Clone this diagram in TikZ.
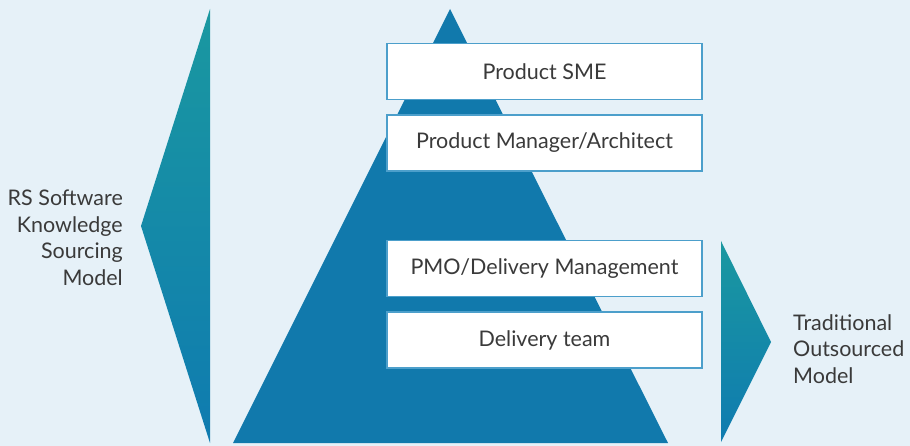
\documentclass[tikz,border=0pt]{standalone}
\usepackage{fontspec}
\setmainfont{Lato}
\definecolor{bg}{HTML}{E6F1F8}
\definecolor{pyr}{HTML}{1179AC}
\definecolor{teal}{HTML}{1A98A0}
\definecolor{deepblue}{HTML}{0F7BB0}
\definecolor{boxline}{HTML}{4C9FCB}
\definecolor{txt}{HTML}{3A3A3A}
\tikzset{
  rolebox/.style={draw=boxline, line width=1.2pt, fill=white, minimum width=315pt, minimum height=56pt, inner sep=0pt, text=txt, font=\fontsize{21.5}{24}\selectfont},
  sidelabel/.style={text=txt, font=\fontsize{21.5}{26.5}\selectfont, inner sep=0pt}
}
\begin{document}
\begin{tikzpicture}[x=1pt,y=-1pt]
\fill[bg] (0,0) rectangle (910,446);
\useasboundingbox (0,0) rectangle (910,446);
% left arrow-like triangle
\shade[top color=teal, bottom color=deepblue] (210,9) -- (141,226) -- (210,443) -- cycle;
% pyramid
\fill[pyr] (450,9) -- (668,443) -- (233,443) -- cycle;
% right triangle
\shade[top color=teal, bottom color=deepblue] (721,241) -- (771,342) -- (721,442) -- cycle;
% boxes
\node[rolebox] (sme) at (544.5,71.5) {Product SME};
\node[rolebox] (pm) at (544.5,143) {Product Manager/Architect};
\node[rolebox] (pmo) at (544.5,268.5) {PMO/Delivery Management};
\node[rolebox] (dt) at (544.5,340) {Delivery team};
% labels
\node[sidelabel, align=right, anchor=east] (left) at (123,238) {RS Software\\Knowledge\\Sourcing\\Model};
\node[sidelabel, align=left, anchor=west] (right) at (793,349) {Traditional\\Outsourced\\Model};
\end{tikzpicture}
\end{document}
